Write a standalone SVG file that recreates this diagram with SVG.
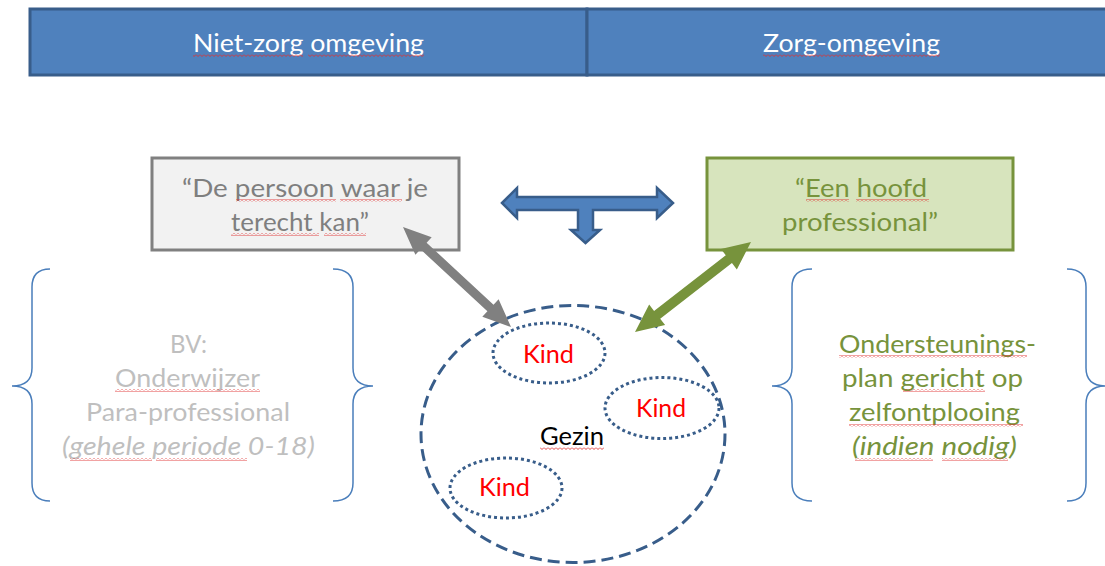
<svg xmlns="http://www.w3.org/2000/svg" width="1105" height="566" viewBox="0 0 1105 566">
<style>
text{font-family:Lato,"Open Sans","Noto Sans",sans-serif;font-size:24.5px}
.hd{fill:#fff;font-size:25px}
.gr{fill:#7f7f7f}
.gn{fill:#77933c}
.lg{fill:#bfbfbf}
.rd{fill:#ff0000}
.bk{fill:#000}
.it{font-style:italic}
.brace{fill:none;stroke:#4a7ebb;stroke-width:1.5}
.sq{fill:url(#sq)}
.dot{fill:none;stroke:#385d8a;stroke-width:3;stroke-dasharray:3 3}
</style>
<defs>
<pattern id="sq" patternUnits="userSpaceOnUse" x="0" y="0" width="4" height="3">
<path d="M0,0.5 L2,2.5 L4,0.5" fill="none" stroke="#e03030" stroke-width="0.9"/>
</pattern>
</defs>

<g id="header">
<rect x="30" y="9" width="557" height="66" fill="#4f81bd" stroke="#385d8a" stroke-width="3"/>
<rect x="587" y="9" width="540" height="66" fill="#4f81bd" stroke="#385d8a" stroke-width="3"/>
<text class="hd" x="193" y="52" textLength="231" lengthAdjust="spacingAndGlyphs">Niet-zorg omgeving</text>
<text class="hd" x="763" y="52" textLength="177" lengthAdjust="spacingAndGlyphs">Zorg-omgeving</text>
<rect class="sq" x="193" y="54" width="110" height="3"/>
<rect class="sq" x="308" y="54" width="116" height="3"/>
<rect class="sq" x="763" y="54" width="177" height="3"/>
</g>

<g id="left-brace">
<path class="brace" d="M50,269 Q32,269 32,287 L32,368 Q32,386 12,386 Q32,386 32,404 L32,483 Q32,501 50,501"/>
<path class="brace" d="M333,269 Q353,269 353,287 L353,368 Q353,386 373,386 Q353,386 353,404 L353,483 Q353,501 333,501"/>
<text class="lg" x="170" y="353" textLength="37" lengthAdjust="spacingAndGlyphs">BV:</text>
<text class="lg" x="115" y="387" textLength="145" lengthAdjust="spacingAndGlyphs">Onderwijzer</text>
<text class="lg" x="86" y="421" textLength="204" lengthAdjust="spacingAndGlyphs">Para-professional</text>
<text class="lg it" x="62" y="455" textLength="253" lengthAdjust="spacingAndGlyphs">(gehele periode 0-18)</text>
<rect class="sq" x="115" y="389" width="145" height="3"/>
<rect class="sq" x="70" y="458" width="82" height="3"/>
<rect class="sq" x="156" y="458" width="91" height="3"/>
</g>

<g id="right-brace">
<path class="brace" d="M812,269 Q792,269 792,287 L792,368 Q792,386 772,386 Q792,386 792,404 L792,483 Q792,501 812,501"/>
<path class="brace" d="M1067,269 Q1086,269 1086,287 L1086,368 Q1086,386 1106,386 Q1086,386 1086,404 L1086,483 Q1086,501 1067,501"/>
<text class="gn" x="839" y="353" textLength="197" lengthAdjust="spacingAndGlyphs">Ondersteunings-</text>
<text class="gn" x="842" y="387" textLength="181" lengthAdjust="spacingAndGlyphs">plan gericht op</text>
<text class="gn" x="849" y="421" textLength="171" lengthAdjust="spacingAndGlyphs">zelfontplooing</text>
<text class="gn it" x="852" y="455" textLength="165" lengthAdjust="spacingAndGlyphs">(indien nodig)</text>
<rect class="sq" x="839" y="355" width="188" height="3"/>
<rect class="sq" x="903" y="389" width="82" height="3"/>
<rect class="sq" x="849" y="424" width="174" height="3"/>
<rect class="sq" x="855" y="458" width="78" height="3"/>
<rect class="sq" x="942" y="458" width="66" height="3"/>
</g>

<g id="node-persoon">
<rect x="152" y="158" width="307" height="92" fill="#f2f2f2" stroke="#808080" stroke-width="3"/>
<text class="gr" x="182" y="197" textLength="246" lengthAdjust="spacingAndGlyphs">“De persoon waar je</text>
<text class="gr" x="231" y="231" textLength="138" lengthAdjust="spacingAndGlyphs">terecht kan”</text>
<rect class="sq" x="236" y="199" width="100" height="3"/>
<rect class="sq" x="340" y="199" width="62" height="3"/>
<rect class="sq" x="231" y="233" width="88" height="3"/>
<rect class="sq" x="324" y="233" width="42" height="3"/>
</g>

<g id="node-professional">
<rect x="707" y="158" width="306" height="92" fill="#d7e4bd" stroke="#77933c" stroke-width="3"/>
<text class="gn" x="795" y="197" textLength="132" lengthAdjust="spacingAndGlyphs">“Een hoofd</text>
<text class="gn" x="782" y="231" textLength="156" lengthAdjust="spacingAndGlyphs">professional”</text>
<rect class="sq" x="806" y="199" width="43" height="3"/>
<rect class="sq" x="856" y="199" width="73" height="3"/>
</g>

<g id="t-arrow">
<polygon points="502,203 517,188 517,197 657,197 657,188 673,203 657,218 657,210 593,210 593,230 600,230 585.5,243 571,230 578,230 578,210 517,210 517,218" fill="#4f81bd" stroke="#385d8a" stroke-width="2.5" stroke-linejoin="miter"/>
</g>

<g id="node-gezin">
<ellipse cx="573" cy="434" rx="152" ry="128.5" fill="none" stroke="#385d8a" stroke-width="3" stroke-dasharray="12 6"/>
<text class="bk" x="540" y="445" textLength="64" lengthAdjust="spacingAndGlyphs">Gezin</text>
<rect class="sq" x="540" y="447" width="64" height="3"/>
</g>

<g id="node-kind1">
<ellipse class="dot" cx="549" cy="353" rx="56" ry="30"/>
<text class="rd" x="523" y="363" textLength="51" lengthAdjust="spacingAndGlyphs">Kind</text>
</g>
<g id="node-kind2">
<ellipse class="dot" cx="662" cy="408" rx="57" ry="30.5"/>
<text class="rd" x="636" y="417" textLength="50" lengthAdjust="spacingAndGlyphs">Kind</text>
</g>
<g id="node-kind3">
<ellipse class="dot" cx="506" cy="488" rx="56" ry="30"/>
<text class="rd" x="479" y="496" textLength="51" lengthAdjust="spacingAndGlyphs">Kind</text>
</g>

<g id="connectors">
<polygon points="403,227 415.39,254.82 420.48,249.32 487.40,311.28 482.31,316.78 511,327 498.61,299.18 493.52,304.68 426.60,242.72 431.69,237.22" fill="#808080"/>
<polygon points="751,242 720.90,248.90 725.80,255.22 654.06,310.88 649.16,304.56 635,332 665.10,325.10 660.20,318.78 731.94,263.12 736.84,269.44" fill="#77933c"/>
</g>
</svg>
